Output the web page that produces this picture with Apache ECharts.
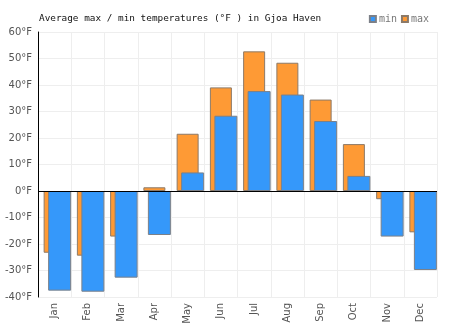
<!DOCTYPE html>
<html>
<head>
<meta charset="utf-8">
<script src="https://cdn.jsdelivr.net/npm/echarts@6/dist/echarts.min.js"></script>
<style>
  html, body { margin: 0; padding: 0; background: #fff; }
  #chart { width: 474px; height: 331px; }
</style>
</head>
<body>
<div id="chart"></div>
<script>
// Monthly averages for Gjoa Haven, in °F
const months = ['Jan', 'Feb', 'Mar', 'Apr', 'May', 'Jun', 'Jul', 'Aug', 'Sep', 'Oct', 'Nov', 'Dec'];
const maxTemps = [-23.3, -24.4, -17.2, 1.4, 21.6, 39.1, 52.7, 48.4, 34.5, 17.7, -3.1, -15.6];
const minTemps = [-37.6, -38.0, -32.7, -16.6, 7.0, 28.4, 37.7, 36.4, 26.4, 5.7, -17.2, -29.8];
const yTicks = { min: -40, max: 60, step: 10 };

const chart = echarts.init(document.getElementById('chart'));

const sansLabel = { color: '#555', fontSize: 10, fontFamily: 'DejaVu Sans' };
const monoFont = 'DejaVu Sans Mono';

chart.setOption({
  animation: false,
  title: {
    text: 'Average max / min temperatures (°F ) in Gjoa Haven',
    left: 34,
    top: 9,
    textStyle: { fontFamily: monoFont, fontSize: 9.4, fontWeight: 'normal', color: '#111' }
  },
  legend: {
    data: ['min', 'max'],
    right: 40,
    top: 9,
    icon: 'rect',
    itemWidth: 6,
    itemHeight: 6,
    itemGap: 4,
    textStyle: { fontFamily: monoFont, fontSize: 10, color: '#777', padding: [0, 0, 0, -2] }
  },
  grid: [
    { left: 38, right: 37, top: 32, bottom: 34 },
    { left: 43, right: 32, top: 32, bottom: 34 }
  ],
  xAxis: [
    {
      type: 'category',
      gridIndex: 0,
      data: months,
      axisLine: { show: false },
      axisTick: { show: false },
      splitLine: { show: true, lineStyle: { color: '#eeeeee' } },
      axisLabel: Object.assign({ rotate: 90, interval: 0, margin: 6 }, sansLabel)
    },
    {
      type: 'category',
      gridIndex: 1,
      data: months,
      show: false
    }
  ],
  yAxis: [
    {
      type: 'value',
      gridIndex: 0,
      min: yTicks.min,
      max: yTicks.max,
      interval: yTicks.step,
      axisLine: { show: true, lineStyle: { color: '#000', width: 1 } },
      axisTick: { show: false },
      splitLine: { show: true, lineStyle: { color: '#eeeeee' } },
      axisLabel: Object.assign({ formatter: '{value}°F', margin: 6 }, sansLabel)
    },
    {
      type: 'value',
      gridIndex: 1,
      min: yTicks.min,
      max: yTicks.max,
      interval: yTicks.step,
      show: false
    }
  ],
  series: [
    {
      name: 'max',
      type: 'bar',
      xAxisIndex: 0,
      yAxisIndex: 0,
      data: maxTemps,
      barWidth: 22,
      z: 2,
      itemStyle: { color: '#fe9a35', borderColor: '#8c7a68', borderWidth: 1 },
      markLine: {
        silent: true,
        symbol: 'none',
        label: { show: false },
        lineStyle: { color: '#000', width: 1.2, type: 'solid' },
        data: [{ yAxis: 0 }],
        z: 10
      }
    },
    {
      name: 'min',
      type: 'bar',
      xAxisIndex: 1,
      yAxisIndex: 1,
      data: minTemps,
      barWidth: 23,
      z: 3,
      itemStyle: { color: '#3598fa', borderColor: '#7c8088', borderWidth: 1 }
    }
  ]
});
</script>
</body>
</html>
